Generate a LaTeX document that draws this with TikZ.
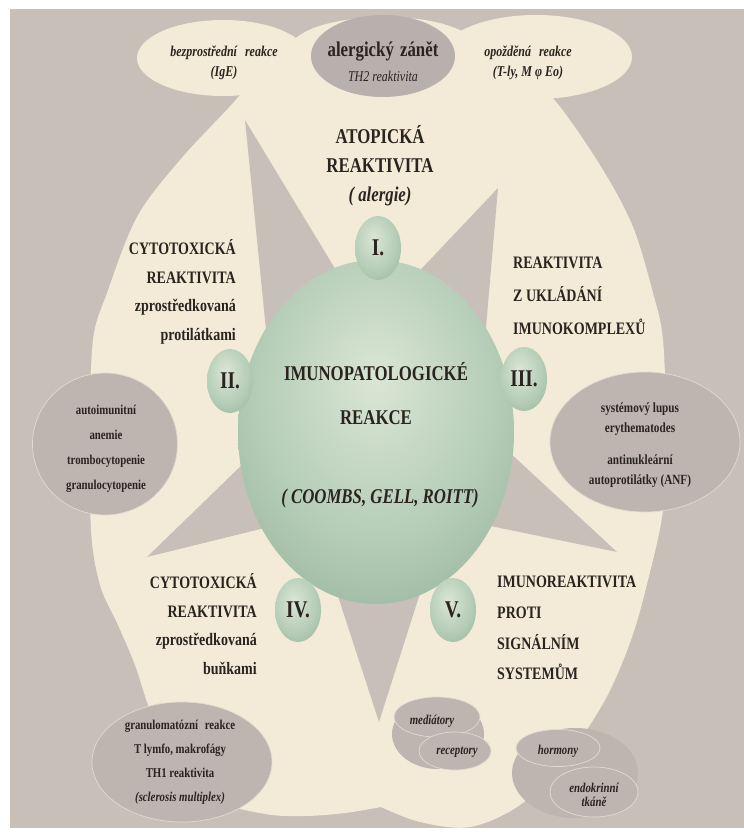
\documentclass[tikz,border=0pt]{standalone}
\usepackage{fontspec}
\usetikzlibrary{shapes.geometric}
\newfontfamily\cf[FakeStretch=0.8]{Liberation Serif}
\definecolor{bgc}{RGB}{200,191,185}
\definecolor{cream}{RGB}{243,235,215}
\definecolor{ellc}{RGB}{190,181,177}
\definecolor{ellline}{RGB}{226,218,209}
\definecolor{midc}{RGB}{184,176,172}
\definecolor{textc}{RGB}{42,36,32}
\definecolor{gcen}{RGB}{218,230,212}
\definecolor{gmid}{RGB}{180,204,182}
\definecolor{gedge}{RGB}{122,156,132}
\pgfdeclareradialshading{bigglow}{\pgfpoint{0bp}{8bp}}{color(0bp)=(gcen); color(22bp)=(gmid); color(50bp)=(gedge); color(80bp)=(gedge)}
\pgfdeclareradialshading{smallglow}{\pgfpoint{-5bp}{8bp}}{color(0bp)=(gcen); color(24bp)=(gmid); color(52bp)=(gedge); color(80bp)=(gedge)}
\tikzset{
  creamell/.style={ellipse, fill=cream, draw=none, inner sep=0pt},
  greyell/.style={ellipse, fill=ellc, draw=ellline, line width=0.7pt, inner sep=0pt},
  numell/.style={ellipse, shade, shading=smallglow, inner sep=0pt, minimum width=46pt, minimum height=64pt,
    text=textc, font=\cf\bfseries\fontsize{24}{28}\selectfont},
  toplab/.style={inner sep=0pt, text=textc, align=center, font=\cf\bfseries\fontsize{21}{29}\selectfont},
  sidelab/.style={inner sep=0pt, text=textc, font=\cf\bfseries\fontsize{17.5}{28.7}\selectfont},
  cenlab/.style={inner sep=0pt, text=textc, font=\cf\bfseries\fontsize{21}{25}\selectfont},
  smalllab/.style={inner sep=0pt, text=textc, align=center, font=\cf\bfseries\fontsize{13.5}{25}\selectfont},
  itlab/.style={inner sep=0pt, text=textc, align=center, font=\cf\bfseries\itshape\fontsize{13.5}{16}\selectfont},
  headlab/.style={inner sep=0pt, text=textc, align=center, font=\cf\bfseries\itshape\fontsize{15}{20}\selectfont}
}
\begin{document}
\begin{tikzpicture}[x=1pt,y=-1pt]
\useasboundingbox (0,0) rectangle (744,835);
\fill[white] (0,0) rectangle (744,835);
\fill[bgc] (10,9) rectangle (744,828);
% cream body
\fill[cream] plot[smooth, tension=0.55] coordinates {
  (381,807) (345,813) (305,816) (265,814) (215,800) (175,765) (150,710) (135,665)
  (118,625) (100,585) (91,530) (90,430) (93,340) (107,293) (137,217) (180,160)
  (233,103) (270,60) (305,32) (340,21) (383,17) (425,20) (460,30) (510,56)
  (557,103) (603,170) (633,227) (653,293) (663,340) (666,430) (663,510) (648,580)
  (631,640) (605,700) (565,760) (520,805) (470,827) (420,822) (381,807)} -- cycle;
% top ellipses
\node[creamell, minimum width=172pt, minimum height=76pt] (ige) at (223,58) {};
\node[creamell, minimum width=192pt, minimum height=84pt] (late) at (536,57) {};
\node[ellipse, fill=midc, inner sep=0pt, minimum width=144pt, minimum height=82pt] (allerg) at (383,56) {};
% star
\fill[bgc] (245,120) -- (275,420) -- (354,300) -- cycle;
\fill[bgc] (498,188) -- (390,302) -- (478,420) -- cycle;
\fill[bgc] (617,552) -- (467,413) -- (461,520) -- cycle;
\fill[bgc] (379,722) -- (320,541) -- (437,540) -- cycle;
\fill[bgc] (147,557) -- (280,428) -- (301,519) -- cycle;
% grey ellipses
\node[greyell, minimum width=145pt, minimum height=142pt] (autoimm) at (105,444) {};
\node[greyell, minimum width=190pt, minimum height=140pt] (lupus) at (645,442) {};
\node[greyell, minimum width=180pt, minimum height=120pt] (granulo) at (182,762) {};
\node[ellipse, fill=ellc, inner sep=0pt, minimum width=92pt, minimum height=70pt] (medblob) at (438,734) {};
\node[greyell, minimum width=86pt, minimum height=40pt] (medi) at (437,717) {};
\node[greyell, minimum width=72pt, minimum height=38pt] (recep) at (455,751) {};
\node[ellipse, fill=ellc, inner sep=0pt, minimum width=126pt, minimum height=90pt] (hormblob) at (575,773) {};
\node[greyell, minimum width=84pt, minimum height=37pt] (horm) at (558,748) {};
\node[greyell, minimum width=88pt, minimum height=50pt] (endo) at (594,792) {};
% central circle
\node[ellipse, shade, shading=bigglow, inner sep=0pt, minimum width=276pt, minimum height=344pt] (core) at (376,432) {};
% numerals
\node[numell] (n1) at (378,248) {I.};
\node[numell] (n2) at (230,381) {II.};
\node[numell] (n3) at (524,379) {III.};
\node[numell] (n4) at (298,610) {IV.};
\node[numell] (n5) at (453,610) {V.};
% top texts
\node[headlab] (igetxt) at (224,63) {bezprostřední\hspace{5pt} reakce\\(IgE)};
\node[inner sep=0pt, text=textc, font=\cf\bfseries\fontsize{21}{25}\selectfont] (allergtxt) at (383,51) {alergický\hspace{2pt} zánět};
\node[inner sep=0pt, text=textc, font=\cf\itshape\fontsize{15}{18}\selectfont] (th2txt) at (383,76) {TH2 reaktivita};
\node[headlab] (latetxt) at (528,63) {opožděná\hspace{5pt} reakce\\(T-ly, M φ Eo)};
% labels
\node[toplab] (atop) at (380,166) {ATOPICKÁ\\REAKTIVITA\\{\itshape ( alergie)}};
\node[sidelab, align=right, anchor=east] (cyto1) at (236,292) {CYTOTOXICKÁ\\REAKTIVITA\\zprostředkovaná\\protilátkami};
\node[sidelab, align=left, anchor=west, font=\cf\bfseries\fontsize{17.5}{33}\selectfont] (imk) at (513,296) {REAKTIVITA\\Z UKLÁDÁNÍ\\IMUNOKOMPLEXŮ};
\node[sidelab, align=right, anchor=east] (cyto2) at (257,624) {CYTOTOXICKÁ\\REAKTIVITA\\zprostředkovaná\\buňkami};
\node[sidelab, align=left, anchor=west, font=\cf\bfseries\fontsize{17.5}{30.7}\selectfont] (signal) at (497,628) {IMUNOREAKTIVITA\\PROTI\\SIGNÁLNÍM\\SYSTEMŮM};
% core texts
\node[cenlab] (imp) at (376,372) {IMUNOPATOLOGICKÉ};
\node[cenlab] (reak) at (376,418) {REAKCE};
\node[cenlab, font=\cf\bfseries\itshape\fontsize{21}{25}\selectfont] (cgr) at (380,498) {( COOMBS, GELL, ROITT)};
% ellipse texts
\node[smalllab] (autotxt) at (106,449) {autoimunitní\\anemie\\trombocytopenie\\granulocytopenie};
\node[smalllab, font=\cf\bfseries\fontsize{14}{19.5}\selectfont] (luptxt) at (640,445) {systémový lupus\\erythematodes\\[13pt]antinukleární\\autoprotilátky (ANF)};
\node[smalllab, font=\cf\bfseries\fontsize{13.5}{24}\selectfont] (grantxt) at (180,762) {granulomatózní\hspace{4pt} reakce\\T lymfo, makrofágy\\TH1 reaktivita\\{\itshape (sclerosis multiplex)}};
\node[itlab] (meditxt) at (432,721) {mediátory};
\node[itlab] (receptxt) at (457,752) {receptory};
\node[itlab] (hormtxt) at (558,751) {hormony};
\node[itlab, font=\cf\bfseries\itshape\fontsize{13.5}{14}\selectfont] (endotxt) at (594,795) {endokrinní\\tkáně};
\end{tikzpicture}
\end{document}
